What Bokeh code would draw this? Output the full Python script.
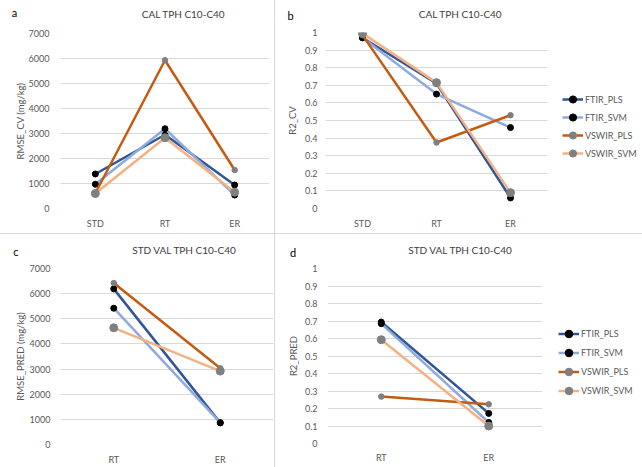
from bokeh.plotting import figure
from bokeh.models import (FactorRange, Range1d, FixedTicker, Legend, LegendItem, Label,
                          CustomJSTickFormatter)
from bokeh.layouts import row, column
from bokeh.embed import file_html
from bokeh.resources import INLINE

# ---------------- data ----------------
series = ["FTIR_PLS", "FTIR_SVM", "VSWIR_PLS", "VSWIR_SVM"]
cats_cal = ["STD", "RT", "ER"]
cats_val = ["RT", "ER"]

# a: RMSE_CV (mg/kg), CAL TPH C10-C40
rmse_cv_ftir_pls = [1380, 2950, 940]
rmse_cv_ftir_svm = [970, 3190, 540]
rmse_cv_vswir_pls = [610, 5930, 1540]
rmse_cv_vswir_svm = [600, 2830, 650]

# b: R2_CV, CAL TPH C10-C40
r2_cv_ftir_pls = [0.97, 0.71, 0.06]
r2_cv_ftir_svm = [0.97, 0.65, 0.46]
r2_cv_vswir_pls = [0.985, 0.375, 0.53]
r2_cv_vswir_svm = [0.995, 0.715, 0.09]

# c: RMSE_PRED (mg/kg), STD VAL TPH C10-C40
rmse_pred_ftir_pls = [6190, 860]
rmse_pred_ftir_svm = [5420, 870]
rmse_pred_vswir_pls = [6420, 3030]
rmse_pred_vswir_svm = [4640, 2920]

# d: R2_PRED, STD VAL TPH C10-C40
r2_pred_ftir_pls = [0.694, 0.172]
r2_pred_ftir_svm = [0.685, 0.12]
r2_pred_vswir_pls = [0.268, 0.224]
r2_pred_vswir_svm = [0.593, 0.10]

rmse_ticks = [0, 1000, 2000, 3000, 4000, 5000, 6000, 7000]
r2_ticks = [0, 0.1, 0.2, 0.3, 0.4, 0.5, 0.6, 0.7, 0.8, 0.9, 1]

# ---------------- style ----------------
FONT = "Lato"
line_colors = {"FTIR_PLS": "#2F5597", "FTIR_SVM": "#8FAADC",
               "VSWIR_PLS": "#C55A11", "VSWIR_SVM": "#F4B183"}
marker_colors = {"FTIR_PLS": "black", "FTIR_SVM": "black",
                 "VSWIR_PLS": "#7F7F7F", "VSWIR_SVM": "#7F7F7F"}
marker_sizes = {"FTIR_PLS": 6, "FTIR_SVM": 6, "VSWIR_PLS": 5.5, "VSWIR_SVM": 8}
TXT = "#595959"
GRID = "#D9D9D9"
WHITE = {"background-color": "white"}
STRIP_H = 24
MAIN_H = 209


def blank(width, height):
    f = figure(width=width, height=height, output_backend="svg", toolbar_location=None,
               x_range=Range1d(0, width), y_range=Range1d(height, 0),
               x_axis_type=None, y_axis_type=None,
               min_border_left=0, min_border_right=0, min_border_top=0, min_border_bottom=0)
    f.grid.visible = False
    f.outline_line_color = None
    f.title.visible = False
    f.border_fill_color = "white"
    f.background_fill_color = "white"
    return f


def title_strip(width, letter, letter_xy, title, title_xy):
    f = blank(width, STRIP_H)
    f.add_layout(Label(x=letter_xy[0], y=letter_xy[1], text=letter, text_align="center",
                       text_baseline="middle", text_font=FONT, text_font_size="11px",
                       text_color="black"))
    f.add_layout(Label(x=title_xy[0], y=title_xy[1], text=title, text_align="center",
                       text_baseline="middle", text_font=FONT, text_font_size="10px",
                       text_color="#404040"))
    return f


def legend_strip(width, loc, row_h):
    f = blank(width, MAIN_H)
    items = []
    for name in series:
        # off-screen sample so the legend has a glyph to draw
        lr = f.line(x=[-1000, -999], y=[-1000, -1000], line_color=line_colors[name],
                    line_width=2.5)
        sr = f.scatter(x=[-1000], y=[-1000], marker="circle", size=marker_sizes[name],
                       fill_color=marker_colors[name], line_color=marker_colors[name])
        items.append(LegendItem(label=name, renderers=[lr, sr]))
    lg = Legend(items=items, location=loc, orientation="vertical",
                border_line_color=None, background_fill_alpha=0, padding=0,
                spacing=0, margin=0, glyph_width=21, glyph_height=row_h,
                label_height=row_h, label_standoff=2, label_text_font=FONT,
                label_text_font_size="9px", label_text_color=TXT)
    f.add_layout(lg)
    return f


def main_panel(width, mb, cats, values, yticks, ylabel, yl_standoff, ylab_standoff,
               xl_standoff):
    p = figure(width=width, height=MAIN_H, output_backend="svg", toolbar_location=None,
               x_range=FactorRange(factors=cats, range_padding=0),
               y_range=Range1d(yticks[0], yticks[-1]),
               min_border_left=mb[0], min_border_right=mb[1],
               min_border_top=mb[2], min_border_bottom=mb[3])
    p.title.visible = False
    p.outline_line_color = None
    p.background_fill_color = "white"
    p.border_fill_color = "white"
    p.xgrid.grid_line_color = None
    p.ygrid.grid_line_color = GRID
    p.ygrid.grid_line_width = 1

    for ax in (p.xaxis[0], p.yaxis[0]):
        ax.axis_line_color = None
        ax.major_tick_line_color = None
        ax.minor_tick_line_color = None
        ax.major_tick_out = 0
        ax.major_tick_in = 0
        ax.minor_tick_out = 0
        ax.minor_tick_in = 0
        ax.major_label_text_font = FONT
        ax.major_label_text_font_size = "9px"
        ax.major_label_text_color = TXT
    p.xaxis.major_label_standoff = xl_standoff
    p.yaxis.ticker = FixedTicker(ticks=yticks)
    p.yaxis.formatter = CustomJSTickFormatter(code="return String(Number(tick.toFixed(2)));")
    p.yaxis.major_label_standoff = yl_standoff
    p.yaxis.axis_label = ylabel
    p.yaxis.axis_label_text_font = FONT
    p.yaxis.axis_label_text_font_size = "9.5px"
    p.yaxis.axis_label_text_font_style = "normal"
    p.yaxis.axis_label_text_color = TXT
    p.yaxis.axis_label_standoff = ylab_standoff

    for name, vals in zip(series, values):
        p.line(cats, vals, line_color=line_colors[name], line_width=2.5)
        p.scatter(cats, vals, marker="circle", size=marker_sizes[name],
                  fill_color=marker_colors[name], line_color=marker_colors[name])
    return p


# panel a
ta = title_strip(274, "a", (14, 11.5), "CAL TPH C10-C40", (183, 13.5))
ma = main_panel(274, (60, 5, 9, 25), cats_cal,
                [rmse_cv_ftir_pls, rmse_cv_ftir_svm, rmse_cv_vswir_pls, rmse_cv_vswir_svm],
                rmse_ticks, "RMSE_CV (mg/kg)", 11, 0, 9)
# panel b
tb = title_strip(367, "b", (15, 15), "CAL TPH C10-C40", (185, 13))
mb_ = main_panel(280, (50, 8, 8, 25), cats_cal,
                 [r2_cv_ftir_pls, r2_cv_ftir_svm, r2_cv_vswir_pls, r2_cv_vswir_svm],
                 r2_ticks, "R2_CV", 8, 4, 9)
lb = legend_strip(87, (7, 46), 18)
# panel c
tc = title_strip(274, "c", (15.5, 17), "STD VAL TPH C10-C40", (184, 15))
mc = main_panel(274, (60, 1, 10, 22), cats_val,
                [rmse_pred_ftir_pls, rmse_pred_ftir_svm, rmse_pred_vswir_pls, rmse_pred_vswir_svm],
                rmse_ticks, "RMSE_PRED (mg/kg)", 10, 1, 9)
# panel d
td = title_strip(367, "d", (17.7, 17.7), "STD VAL TPH C10-C40", (185, 15))
md = main_panel(275, (52, 8, 10, 24), cats_val,
                [r2_pred_ftir_pls, r2_pred_ftir_svm, r2_pred_vswir_pls, r2_pred_vswir_svm],
                r2_ticks, "R2_PRED", 10, 3, 8)
ld = legend_strip(92, (8, 43), 19)

bg = {"background-color": GRID}
pan_a = column(ta, row(ma, styles=WHITE), styles=WHITE)
pan_b = column(tb, row(mb_, lb, styles=WHITE), styles=WHITE)
pan_c = column(tc, row(mc, styles=WHITE), styles=WHITE)
pan_d = column(td, row(md, ld, styles=WHITE), styles=WHITE)
top = row(pan_a, pan_b, spacing=1, styles=bg)
bottom = row(pan_c, pan_d, spacing=1, styles=bg)
layout = column(top, bottom, spacing=1, styles=bg)

open("out.html", "w").write(file_html(layout, INLINE))
